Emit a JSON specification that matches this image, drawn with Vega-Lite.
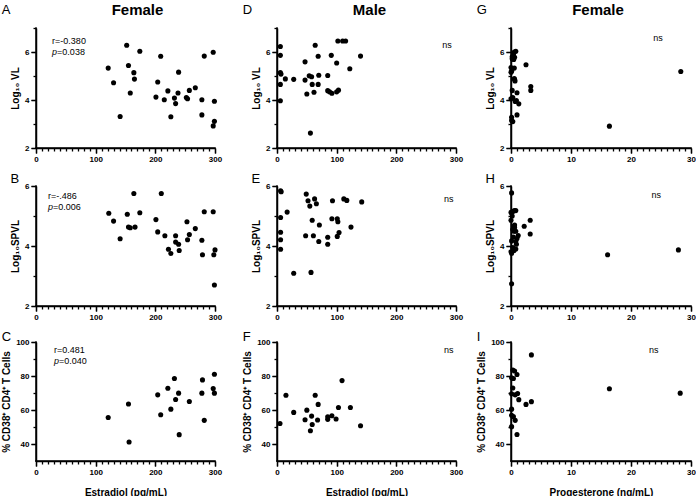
{
  "$schema": "https://vega.github.io/schema/vega-lite/v6.json",
  "padding": {"left": 1, "top": 2, "right": 0, "bottom": 0},
  "config": {
    "view": {"stroke": null},
    "axis": {
      "labelFont": "Liberation Sans", "labelFontWeight": "bold", "labelFontSize": 8, "labelColor": "black", "labelPadding": 2,
      "titleFont": "Liberation Sans", "titleFontWeight": "bold", "titleFontSize": 10, "titleColor": "black", "titlePadding": 4,
      "grid": false, "labelOverlap": false, "labelFlush": false,
      "domainColor": "black", "domainWidth": 1.5, "tickColor": "black", "tickWidth": 1.3
    },
    "title": {"font": "Liberation Sans", "color": "black"}
  },
  "datasets": {
    "A": [{"hormone":121,"value":5.33},{"hormone":130,"value":4.72},{"hormone":152,"value":6.28},{"hormone":155,"value":5.44},{"hormone":141,"value":3.31},{"hormone":158,"value":4.29},{"hormone":164,"value":5.14},{"hormone":165,"value":4.87},{"hormone":174,"value":6.03},{"hormone":201,"value":4.12},{"hormone":204,"value":4.75},{"hormone":209,"value":5.82},{"hormone":215,"value":4.01},{"hormone":221,"value":4.38},{"hormone":226,"value":3.30},{"hormone":232,"value":4.08},{"hormone":234,"value":3.85},{"hormone":238,"value":4.29},{"hormone":239,"value":5.16},{"hormone":252,"value":4.10},{"hormone":254,"value":4.05},{"hormone":257,"value":4.40},{"hormone":267,"value":4.51},{"hormone":278,"value":4.01},{"hormone":278,"value":3.38},{"hormone":282,"value":5.83},{"hormone":297,"value":5.99},{"hormone":299,"value":3.95},{"hormone":299,"value":3.11},{"hormone":297,"value":2.92}],
    "B": [{"hormone":122,"value":5.09},{"hormone":130,"value":4.83},{"hormone":141,"value":4.24},{"hormone":153,"value":5.06},{"hormone":155,"value":4.63},{"hormone":158,"value":4.61},{"hormone":164,"value":5.75},{"hormone":166,"value":4.63},{"hormone":174,"value":5.11},{"hormone":201,"value":4.88},{"hormone":204,"value":4.47},{"hormone":210,"value":5.75},{"hormone":216,"value":4.34},{"hormone":222,"value":3.89},{"hormone":226,"value":3.75},{"hormone":234,"value":4.34},{"hormone":234,"value":4.13},{"hormone":239,"value":4.06},{"hormone":240,"value":3.85},{"hormone":253,"value":4.81},{"hormone":254,"value":4.21},{"hormone":257,"value":4.38},{"hormone":267,"value":4.58},{"hormone":278,"value":4.19},{"hormone":279,"value":3.71},{"hormone":282,"value":5.14},{"hormone":297,"value":5.14},{"hormone":298,"value":3.71},{"hormone":300,"value":3.87},{"hormone":299,"value":2.70}],
    "C": [{"hormone":121,"value":55.6},{"hormone":155,"value":63.5},{"hormone":156,"value":41.2},{"hormone":204,"value":68.9},{"hormone":209,"value":57.2},{"hormone":221,"value":72.8},{"hormone":226,"value":60.5},{"hormone":232,"value":78.5},{"hormone":234,"value":66.2},{"hormone":239,"value":69.9},{"hormone":240,"value":45.5},{"hormone":257,"value":65.0},{"hormone":278,"value":69.9},{"hormone":279,"value":77.7},{"hormone":282,"value":53.9},{"hormone":297,"value":72.6},{"hormone":299,"value":81.0},{"hormone":299,"value":69.9}],
    "D": [{"hormone":5.6,"value":6.23},{"hormone":5.6,"value":5.86},{"hormone":5.6,"value":5.14},{"hormone":6.7,"value":5.08},{"hormone":5.6,"value":4.65},{"hormone":5.6,"value":3.97},{"hormone":14,"value":4.88},{"hormone":28,"value":4.86},{"hormone":47,"value":5.59},{"hormone":47,"value":4.83},{"hormone":50,"value":4.25},{"hormone":54,"value":5.01},{"hormone":58,"value":4.97},{"hormone":56,"value":2.62},{"hormone":59,"value":4.65},{"hormone":62,"value":4.32},{"hormone":64,"value":6.28},{"hormone":69,"value":5.82},{"hormone":69,"value":4.65},{"hormone":70,"value":5.03},{"hormone":85,"value":5.02},{"hormone":85,"value":4.39},{"hormone":88,"value":4.34},{"hormone":91,"value":5.86},{"hormone":92,"value":4.28},{"hormone":100,"value":5.54},{"hormone":100,"value":4.34},{"hormone":102,"value":6.46},{"hormone":103,"value":4.41},{"hormone":110,"value":6.46},{"hormone":115,"value":6.46},{"hormone":122,"value":5.30},{"hormone":140,"value":5.83}],
    "E": [{"hormone":6,"value":5.84},{"hormone":7,"value":5.81},{"hormone":6,"value":4.95},{"hormone":6,"value":4.46},{"hormone":6,"value":4.21},{"hormone":6,"value":3.89},{"hormone":17,"value":5.13},{"hormone":28,"value":3.09},{"hormone":49,"value":5.73},{"hormone":52,"value":5.51},{"hormone":55,"value":5.33},{"hormone":48,"value":4.34},{"hormone":57,"value":3.12},{"hormone":59,"value":4.86},{"hormone":61,"value":4.34},{"hormone":63,"value":5.57},{"hormone":66,"value":5.41},{"hormone":71,"value":4.70},{"hormone":70,"value":4.15},{"hormone":85,"value":4.29},{"hormone":85,"value":4.06},{"hormone":92,"value":4.91},{"hormone":93,"value":5.51},{"hormone":101,"value":4.91},{"hormone":102,"value":4.81},{"hormone":101,"value":4.32},{"hormone":104,"value":4.45},{"hormone":112,"value":5.57},{"hormone":117,"value":5.52},{"hormone":124,"value":4.63},{"hormone":142,"value":5.47}],
    "F": [{"hormone":5,"value":52.1},{"hormone":15,"value":68.7},{"hormone":28,"value":58.6},{"hormone":47,"value":54.3},{"hormone":50,"value":59.9},{"hormone":56,"value":47.8},{"hormone":58,"value":56.4},{"hormone":59,"value":51.5},{"hormone":64,"value":68.7},{"hormone":68,"value":54.1},{"hormone":69,"value":63.3},{"hormone":85,"value":56.0},{"hormone":85,"value":54.5},{"hormone":92,"value":56.6},{"hormone":99,"value":54.7},{"hormone":103,"value":61.5},{"hormone":109,"value":77.3},{"hormone":123,"value":61.5},{"hormone":140,"value":50.7}],
    "G": [{"hormone":0.55,"value":6.0},{"hormone":0.8,"value":6.03},{"hormone":0.4,"value":5.89},{"hormone":0.2,"value":5.72},{"hormone":0.45,"value":5.69},{"hormone":0.6,"value":5.78},{"hormone":0,"value":5.35},{"hormone":0.55,"value":5.33},{"hormone":0.1,"value":5.2},{"hormone":0,"value":5.16},{"hormone":0.55,"value":4.89},{"hormone":0.67,"value":4.79},{"hormone":0.6,"value":4.85},{"hormone":0.2,"value":4.40},{"hormone":1.0,"value":4.30},{"hormone":0,"value":4.05},{"hormone":0.3,"value":4.1},{"hormone":0.7,"value":3.94},{"hormone":0.9,"value":3.98},{"hormone":1.3,"value":3.84},{"hormone":1.0,"value":3.38},{"hormone":0.1,"value":3.28},{"hormone":0.3,"value":3.10},{"hormone":0.1,"value":3.15},{"hormone":2.5,"value":5.47},{"hormone":3.3,"value":4.56},{"hormone":3.3,"value":4.40},{"hormone":16.4,"value":2.91},{"hormone":28.3,"value":5.19},{"hormone":0.2,"value":5.8}],
    "H": [{"hormone":0.1,"value":5.77},{"hormone":0.55,"value":5.18},{"hormone":0,"value":5.12},{"hormone":0.8,"value":5.18},{"hormone":0.3,"value":5.15},{"hormone":0,"value":4.86},{"hormone":0.45,"value":4.66},{"hormone":0.6,"value":4.62},{"hormone":0.3,"value":4.55},{"hormone":2.2,"value":4.66},{"hormone":3.2,"value":4.86},{"hormone":3.2,"value":4.40},{"hormone":0.5,"value":4.49},{"hormone":0.8,"value":4.49},{"hormone":1.2,"value":4.35},{"hormone":0.1,"value":4.17},{"hormone":0.8,"value":4.15},{"hormone":0.9,"value":4.06},{"hormone":0.4,"value":4.3},{"hormone":0,"value":3.81},{"hormone":0.8,"value":3.90},{"hormone":0.1,"value":3.75},{"hormone":0.3,"value":3.95},{"hormone":0.1,"value":2.74},{"hormone":16.1,"value":3.71},{"hormone":27.9,"value":3.87},{"hormone":0.6,"value":4.7},{"hormone":0.2,"value":5.0},{"hormone":1.0,"value":4.25},{"hormone":0.5,"value":3.85}],
    "I": [{"hormone":3.4,"value":92.4},{"hormone":0.3,"value":83.5},{"hormone":0.6,"value":82.9},{"hormone":1.0,"value":80.9},{"hormone":0.4,"value":78.5},{"hormone":0.1,"value":78.9},{"hormone":0.3,"value":72.9},{"hormone":0.1,"value":69.5},{"hormone":0.7,"value":68.9},{"hormone":1.1,"value":69.7},{"hormone":1.3,"value":66.1},{"hormone":2.5,"value":63.3},{"hormone":3.4,"value":64.9},{"hormone":0.1,"value":60.5},{"hormone":0.1,"value":56.9},{"hormone":0.4,"value":56.1},{"hormone":0.7,"value":53.9},{"hormone":0.1,"value":50.2},{"hormone":1.0,"value":45.6},{"hormone":16.4,"value":72.5},{"hormone":28.2,"value":69.9}]
  },
  "spacing": 20,
  "hconcat": [
    {
      "title": {"text": "A", "anchor": "start", "frame": "bounds", "fontSize": 13, "fontWeight": "normal", "dy": 18},
      "spacing": 10,
      "vconcat": [
        {
          "width": 179, "height": 120,
          "title": {"text": "Female", "anchor": "middle", "frame": "group", "fontSize": 15, "fontWeight": "bold", "offset": 9, "dx": 12},
          "data": {"name": "A"},
          "resolve": {"axis": {"x": "independent", "y": "independent"}},
          "layer": [
            {"mark": {"type": "circle", "color": "black", "opacity": 1, "size": 26},
             "encoding": {
               "x": {"field": "hormone", "type": "quantitative", "scale": {"domain": [0, 300], "nice": false, "zero": false}, "axis": {"title": null, "values": [0,100,200,300], "orient": "bottom"}},
               "y": {"field": "value", "type": "quantitative", "scale": {"domain": [2, 7], "nice": false, "zero": false}, "axis": {"title": "Log₁₀ VL", "values": [2,4,6], "orient": "left"}}
             }},
            {"mark": {"type": "circle", "opacity": 0},
             "encoding": {
               "x": {"field": "hormone", "type": "quantitative", "axis": {"orient": "bottom", "title": null, "labels": false, "domain": false, "tickSize": 5, "values": [0,100,200,300]}},
               "y": {"field": "value", "type": "quantitative", "axis": {"orient": "left", "title": null, "labels": false, "domain": false, "tickSize": 5, "values": [2,4,6]}}
             }},
            {"mark": {"type": "circle", "opacity": 0},
             "encoding": {
               "x": {"field": "hormone", "type": "quantitative", "axis": {"orient": "bottom", "title": null, "labels": false, "domain": false, "tickSize": 3, "values": [10,20,30,40,50,60,70,80,90,110,120,130,140,150,160,170,180,190,210,220,230,240,250,260,270,280,290]}},
               "y": {"field": "value", "type": "quantitative", "axis": {"orient": "left", "title": null, "labels": false, "domain": false, "tickSize": 3, "values": [3,5,7]}}
             }},
            {"data": {"values": [{}]}, "mark": {"type": "rule", "color": "black", "strokeWidth": 1.5, "strokeCap": "square"}, "encoding": {"y": {"datum": 2, "axis": null}}},
            {"data": {"values": [{}]}, "mark": {"type": "rule", "color": "black", "strokeWidth": 1.5, "strokeCap": "square"}, "encoding": {"x": {"datum": 0, "axis": null}}},
            {"data": {"values": [{}]}, "mark": {"type": "text", "text": "r=-0.380", "align": "left", "baseline": "middle", "fontSize": 9, "color": "black"}, "encoding": {"x": {"datum": 27, "axis": null}, "y": {"datum": 6.46, "axis": null}}},
            {"data": {"values": [{}]}, "mark": {"type": "text", "text": "p", "fontStyle": "italic", "align": "left", "baseline": "middle", "fontSize": 9, "color": "black"}, "encoding": {"x": {"datum": 27, "axis": null}, "y": {"datum": 6.0, "axis": null}}},
            {"data": {"values": [{}]}, "mark": {"type": "text", "text": "=0.038", "align": "left", "baseline": "middle", "fontSize": 9, "dx": 5, "color": "black"}, "encoding": {"x": {"datum": 27, "axis": null}, "y": {"datum": 6.0, "axis": null}}}
          ]
        },
        {
          "width": 179, "height": 120,
          "title": {"text": "B", "anchor": "start", "frame": "bounds", "fontSize": 13, "fontWeight": "normal", "offset": -4},
          "data": {"name": "B"},
          "resolve": {"axis": {"x": "independent", "y": "independent"}},
          "layer": [
            {"mark": {"type": "circle", "color": "black", "opacity": 1, "size": 26},
             "encoding": {
               "x": {"field": "hormone", "type": "quantitative", "scale": {"domain": [0, 300], "nice": false, "zero": false}, "axis": {"title": null, "values": [0,100,200,300], "orient": "bottom"}},
               "y": {"field": "value", "type": "quantitative", "scale": {"domain": [2, 6], "nice": false, "zero": false}, "axis": {"title": "Log₁₀SPVL", "values": [2,4,6], "orient": "left"}}
             }},
            {"mark": {"type": "circle", "opacity": 0},
             "encoding": {
               "x": {"field": "hormone", "type": "quantitative", "axis": {"orient": "bottom", "title": null, "labels": false, "domain": false, "tickSize": 5, "values": [0,100,200,300]}},
               "y": {"field": "value", "type": "quantitative", "axis": {"orient": "left", "title": null, "labels": false, "domain": false, "tickSize": 5, "values": [2,4,6]}}
             }},
            {"mark": {"type": "circle", "opacity": 0},
             "encoding": {
               "x": {"field": "hormone", "type": "quantitative", "axis": {"orient": "bottom", "title": null, "labels": false, "domain": false, "tickSize": 3, "values": [10,20,30,40,50,60,70,80,90,110,120,130,140,150,160,170,180,190,210,220,230,240,250,260,270,280,290]}},
               "y": {"field": "value", "type": "quantitative", "axis": {"orient": "left", "title": null, "labels": false, "domain": false, "tickSize": 3, "values": [3,5]}}
             }},
            {"data": {"values": [{}]}, "mark": {"type": "rule", "color": "black", "strokeWidth": 1.5, "strokeCap": "square"}, "encoding": {"y": {"datum": 2, "axis": null}}},
            {"data": {"values": [{}]}, "mark": {"type": "rule", "color": "black", "strokeWidth": 1.5, "strokeCap": "square"}, "encoding": {"x": {"datum": 0, "axis": null}}},
            {"data": {"values": [{}]}, "mark": {"type": "text", "text": "r=-.486", "align": "left", "baseline": "middle", "fontSize": 9, "color": "black"}, "encoding": {"x": {"datum": 20, "axis": null}, "y": {"datum": 5.67, "axis": null}}},
            {"data": {"values": [{}]}, "mark": {"type": "text", "text": "p", "fontStyle": "italic", "align": "left", "baseline": "middle", "fontSize": 9, "color": "black"}, "encoding": {"x": {"datum": 20, "axis": null}, "y": {"datum": 5.3, "axis": null}}},
            {"data": {"values": [{}]}, "mark": {"type": "text", "text": "=0.006", "align": "left", "baseline": "middle", "fontSize": 9, "dx": 5, "color": "black"}, "encoding": {"x": {"datum": 20, "axis": null}, "y": {"datum": 5.3, "axis": null}}}
          ]
        },
        {
          "width": 179, "height": 119,
          "title": {"text": "C", "anchor": "start", "frame": "bounds", "fontSize": 13, "fontWeight": "normal", "offset": -6},
          "data": {"name": "C"},
          "resolve": {"axis": {"x": "independent", "y": "independent"}},
          "layer": [
            {"mark": {"type": "circle", "color": "black", "opacity": 1, "size": 26},
             "encoding": {
               "x": {"field": "hormone", "type": "quantitative", "scale": {"domain": [0, 300], "nice": false, "zero": false}, "axis": {"title": "Estradiol (pg/mL)", "titlePadding": 11, "values": [0,100,200,300], "orient": "bottom"}},
               "y": {"field": "value", "type": "quantitative", "scale": {"domain": [30, 100], "nice": false, "zero": false}, "axis": {"title": "% CD38⁺ CD4⁺ T Cells", "values": [40,60,80,100], "orient": "left"}}
             }},
            {"mark": {"type": "circle", "opacity": 0},
             "encoding": {
               "x": {"field": "hormone", "type": "quantitative", "axis": {"orient": "bottom", "title": null, "labels": false, "domain": false, "tickSize": 5, "values": [0,100,200,300]}},
               "y": {"field": "value", "type": "quantitative", "axis": {"orient": "left", "title": null, "labels": false, "domain": false, "tickSize": 5, "values": [40,60,80,100]}}
             }},
            {"mark": {"type": "circle", "opacity": 0},
             "encoding": {
               "x": {"field": "hormone", "type": "quantitative", "axis": {"orient": "bottom", "title": null, "labels": false, "domain": false, "tickSize": 3, "values": [10,20,30,40,50,60,70,80,90,110,120,130,140,150,160,170,180,190,210,220,230,240,250,260,270,280,290]}},
               "y": {"field": "value", "type": "quantitative", "axis": {"orient": "left", "title": null, "labels": false, "domain": false, "tickSize": 3, "values": [50,70,90]}}
             }},
            {"data": {"values": [{}]}, "mark": {"type": "rule", "color": "black", "strokeWidth": 1.5, "strokeCap": "square"}, "encoding": {"y": {"datum": 30, "axis": null}}},
            {"data": {"values": [{}]}, "mark": {"type": "rule", "color": "black", "strokeWidth": 1.5, "strokeCap": "square"}, "encoding": {"x": {"datum": 0, "axis": null}}},
            {"data": {"values": [{}]}, "mark": {"type": "text", "text": "r=0.481", "align": "left", "baseline": "middle", "fontSize": 9, "color": "black"}, "encoding": {"x": {"datum": 30, "axis": null}, "y": {"datum": 95.3, "axis": null}}},
            {"data": {"values": [{}]}, "mark": {"type": "text", "text": "p", "fontStyle": "italic", "align": "left", "baseline": "middle", "fontSize": 9, "color": "black"}, "encoding": {"x": {"datum": 30, "axis": null}, "y": {"datum": 88.8, "axis": null}}},
            {"data": {"values": [{}]}, "mark": {"type": "text", "text": "=0.040", "align": "left", "baseline": "middle", "fontSize": 9, "dx": 5, "color": "black"}, "encoding": {"x": {"datum": 30, "axis": null}, "y": {"datum": 88.8, "axis": null}}}
          ]
        }
      ]
    },
    {
      "spacing": 13,
      "hconcat": [
        {
          "title": {"text": "D", "anchor": "start", "frame": "bounds", "fontSize": 13, "fontWeight": "normal", "dy": 18},
          "spacing": 10,
          "vconcat": [
            {
              "width": 179, "height": 120,
              "title": {"text": "Male", "anchor": "middle", "frame": "group", "fontSize": 15, "fontWeight": "bold", "offset": 9, "dx": 3},
              "data": {"name": "D"},
              "resolve": {"axis": {"x": "independent", "y": "independent"}},
              "layer": [
                {"mark": {"type": "circle", "color": "black", "opacity": 1, "size": 26},
                 "encoding": {
                   "x": {"field": "hormone", "type": "quantitative", "scale": {"domain": [0, 300], "nice": false, "zero": false}, "axis": {"title": null, "values": [0,100,200,300], "orient": "bottom"}},
                   "y": {"field": "value", "type": "quantitative", "scale": {"domain": [2, 7], "nice": false, "zero": false}, "axis": {"title": "Log₁₀ VL", "values": [2,4,6], "orient": "left"}}
                 }},
                {"mark": {"type": "circle", "opacity": 0},
                 "encoding": {
                   "x": {"field": "hormone", "type": "quantitative", "axis": {"orient": "bottom", "title": null, "labels": false, "domain": false, "tickSize": 5, "values": [0,100,200,300]}},
                   "y": {"field": "value", "type": "quantitative", "axis": {"orient": "left", "title": null, "labels": false, "domain": false, "tickSize": 5, "values": [2,4,6]}}
                 }},
                {"mark": {"type": "circle", "opacity": 0},
                 "encoding": {
                   "x": {"field": "hormone", "type": "quantitative", "axis": {"orient": "bottom", "title": null, "labels": false, "domain": false, "tickSize": 3, "values": [10,20,30,40,50,60,70,80,90,110,120,130,140,150,160,170,180,190,210,220,230,240,250,260,270,280,290]}},
                   "y": {"field": "value", "type": "quantitative", "axis": {"orient": "left", "title": null, "labels": false, "domain": false, "tickSize": 3, "values": [3,5,7]}}
                 }},
                {"data": {"values": [{}]}, "mark": {"type": "rule", "color": "black", "strokeWidth": 1.5, "strokeCap": "square"}, "encoding": {"y": {"datum": 2, "axis": null}}},
                {"data": {"values": [{}]}, "mark": {"type": "rule", "color": "black", "strokeWidth": 1.5, "strokeCap": "square"}, "encoding": {"x": {"datum": 0, "axis": null}}},
                {"data": {"values": [{}]}, "mark": {"type": "text", "text": "ns", "align": "center", "baseline": "middle", "fontSize": 9, "color": "black"}, "encoding": {"x": {"datum": 285, "axis": null}, "y": {"datum": 6.29, "axis": null}}}
              ]
            },
            {
              "width": 179, "height": 120,
              "title": {"text": "E", "anchor": "start", "frame": "bounds", "fontSize": 13, "fontWeight": "normal", "offset": -4},
              "data": {"name": "E"},
              "resolve": {"axis": {"x": "independent", "y": "independent"}},
              "layer": [
                {"mark": {"type": "circle", "color": "black", "opacity": 1, "size": 26},
                 "encoding": {
                   "x": {"field": "hormone", "type": "quantitative", "scale": {"domain": [0, 300], "nice": false, "zero": false}, "axis": {"title": null, "values": [0,100,200,300], "orient": "bottom"}},
                   "y": {"field": "value", "type": "quantitative", "scale": {"domain": [2, 6], "nice": false, "zero": false}, "axis": {"title": "Log₁₀SPVL", "values": [2,4,6], "orient": "left"}}
                 }},
                {"mark": {"type": "circle", "opacity": 0},
                 "encoding": {
                   "x": {"field": "hormone", "type": "quantitative", "axis": {"orient": "bottom", "title": null, "labels": false, "domain": false, "tickSize": 5, "values": [0,100,200,300]}},
                   "y": {"field": "value", "type": "quantitative", "axis": {"orient": "left", "title": null, "labels": false, "domain": false, "tickSize": 5, "values": [2,4,6]}}
                 }},
                {"mark": {"type": "circle", "opacity": 0},
                 "encoding": {
                   "x": {"field": "hormone", "type": "quantitative", "axis": {"orient": "bottom", "title": null, "labels": false, "domain": false, "tickSize": 3, "values": [10,20,30,40,50,60,70,80,90,110,120,130,140,150,160,170,180,190,210,220,230,240,250,260,270,280,290]}},
                   "y": {"field": "value", "type": "quantitative", "axis": {"orient": "left", "title": null, "labels": false, "domain": false, "tickSize": 3, "values": [3,5]}}
                 }},
                {"data": {"values": [{}]}, "mark": {"type": "rule", "color": "black", "strokeWidth": 1.5, "strokeCap": "square"}, "encoding": {"y": {"datum": 2, "axis": null}}},
                {"data": {"values": [{}]}, "mark": {"type": "rule", "color": "black", "strokeWidth": 1.5, "strokeCap": "square"}, "encoding": {"x": {"datum": 0, "axis": null}}},
                {"data": {"values": [{}]}, "mark": {"type": "text", "text": "ns", "align": "center", "baseline": "middle", "fontSize": 9, "color": "black"}, "encoding": {"x": {"datum": 288, "axis": null}, "y": {"datum": 5.57, "axis": null}}}
              ]
            },
            {
              "width": 179, "height": 119,
              "title": {"text": "F", "anchor": "start", "frame": "bounds", "fontSize": 13, "fontWeight": "normal", "offset": -6},
              "data": {"name": "F"},
              "resolve": {"axis": {"x": "independent", "y": "independent"}},
              "layer": [
                {"mark": {"type": "circle", "color": "black", "opacity": 1, "size": 26},
                 "encoding": {
                   "x": {"field": "hormone", "type": "quantitative", "scale": {"domain": [0, 300], "nice": false, "zero": false}, "axis": {"title": "Estradiol (pg/mL)", "titlePadding": 11, "values": [0,100,200,300], "orient": "bottom"}},
                   "y": {"field": "value", "type": "quantitative", "scale": {"domain": [30, 100], "nice": false, "zero": false}, "axis": {"title": "% CD38⁺ CD4⁺ T Cells", "values": [40,60,80,100], "orient": "left"}}
                 }},
                {"mark": {"type": "circle", "opacity": 0},
                 "encoding": {
                   "x": {"field": "hormone", "type": "quantitative", "axis": {"orient": "bottom", "title": null, "labels": false, "domain": false, "tickSize": 5, "values": [0,100,200,300]}},
                   "y": {"field": "value", "type": "quantitative", "axis": {"orient": "left", "title": null, "labels": false, "domain": false, "tickSize": 5, "values": [40,60,80,100]}}
                 }},
                {"mark": {"type": "circle", "opacity": 0},
                 "encoding": {
                   "x": {"field": "hormone", "type": "quantitative", "axis": {"orient": "bottom", "title": null, "labels": false, "domain": false, "tickSize": 3, "values": [10,20,30,40,50,60,70,80,90,110,120,130,140,150,160,170,180,190,210,220,230,240,250,260,270,280,290]}},
                   "y": {"field": "value", "type": "quantitative", "axis": {"orient": "left", "title": null, "labels": false, "domain": false, "tickSize": 3, "values": [50,70,90]}}
                 }},
                {"data": {"values": [{}]}, "mark": {"type": "rule", "color": "black", "strokeWidth": 1.5, "strokeCap": "square"}, "encoding": {"y": {"datum": 30, "axis": null}}},
                {"data": {"values": [{}]}, "mark": {"type": "rule", "color": "black", "strokeWidth": 1.5, "strokeCap": "square"}, "encoding": {"x": {"datum": 0, "axis": null}}},
                {"data": {"values": [{}]}, "mark": {"type": "text", "text": "ns", "align": "center", "baseline": "middle", "fontSize": 9, "color": "black"}, "encoding": {"x": {"datum": 288, "axis": null}, "y": {"datum": 95.3, "axis": null}}}
              ]
            }
          ]
        },
        {
          "title": {"text": "G", "anchor": "start", "frame": "bounds", "fontSize": 13, "fontWeight": "normal", "dy": 18},
          "spacing": 10,
          "vconcat": [
            {
              "width": 180, "height": 120,
              "title": {"text": "Female", "anchor": "middle", "frame": "group", "fontSize": 15, "fontWeight": "bold", "offset": 9, "dx": -3},
              "data": {"name": "G"},
              "resolve": {"axis": {"x": "independent", "y": "independent"}},
              "layer": [
                {"mark": {"type": "circle", "color": "black", "opacity": 1, "size": 26},
                 "encoding": {
                   "x": {"field": "hormone", "type": "quantitative", "scale": {"domain": [0, 30], "nice": false, "zero": false}, "axis": {"title": null, "values": [0,10,20,30], "orient": "bottom"}},
                   "y": {"field": "value", "type": "quantitative", "scale": {"domain": [2, 7], "nice": false, "zero": false}, "axis": {"title": "Log₁₀ VL", "values": [2,4,6], "orient": "left"}}
                 }},
                {"mark": {"type": "circle", "opacity": 0},
                 "encoding": {
                   "x": {"field": "hormone", "type": "quantitative", "axis": {"orient": "bottom", "title": null, "labels": false, "domain": false, "tickSize": 5, "values": [0,10,20,30]}},
                   "y": {"field": "value", "type": "quantitative", "axis": {"orient": "left", "title": null, "labels": false, "domain": false, "tickSize": 5, "values": [2,4,6]}}
                 }},
                {"mark": {"type": "circle", "opacity": 0},
                 "encoding": {
                   "x": {"field": "hormone", "type": "quantitative", "axis": {"orient": "bottom", "title": null, "labels": false, "domain": false, "tickSize": 3, "values": [1,2,3,4,5,6,7,8,9,11,12,13,14,15,16,17,18,19,21,22,23,24,25,26,27,28,29]}},
                   "y": {"field": "value", "type": "quantitative", "axis": {"orient": "left", "title": null, "labels": false, "domain": false, "tickSize": 3, "values": [3,5,7]}}
                 }},
                {"data": {"values": [{}]}, "mark": {"type": "rule", "color": "black", "strokeWidth": 1.5, "strokeCap": "square"}, "encoding": {"y": {"datum": 2, "axis": null}}},
                {"data": {"values": [{}]}, "mark": {"type": "rule", "color": "black", "strokeWidth": 1.5, "strokeCap": "square"}, "encoding": {"x": {"datum": 0, "axis": null}}},
                {"data": {"values": [{}]}, "mark": {"type": "text", "text": "ns", "align": "center", "baseline": "middle", "fontSize": 9, "color": "black"}, "encoding": {"x": {"datum": 24.5, "axis": null}, "y": {"datum": 6.6, "axis": null}}}
              ]
            },
            {
              "width": 180, "height": 120,
              "title": {"text": "H", "anchor": "start", "frame": "bounds", "fontSize": 13, "fontWeight": "normal", "offset": -4},
              "data": {"name": "H"},
              "resolve": {"axis": {"x": "independent", "y": "independent"}},
              "layer": [
                {"mark": {"type": "circle", "color": "black", "opacity": 1, "size": 26},
                 "encoding": {
                   "x": {"field": "hormone", "type": "quantitative", "scale": {"domain": [0, 30], "nice": false, "zero": false}, "axis": {"title": null, "values": [0,10,20,30], "orient": "bottom"}},
                   "y": {"field": "value", "type": "quantitative", "scale": {"domain": [2, 6], "nice": false, "zero": false}, "axis": {"title": "Log₁₀SPVL", "values": [2,4,6], "orient": "left"}}
                 }},
                {"mark": {"type": "circle", "opacity": 0},
                 "encoding": {
                   "x": {"field": "hormone", "type": "quantitative", "axis": {"orient": "bottom", "title": null, "labels": false, "domain": false, "tickSize": 5, "values": [0,10,20,30]}},
                   "y": {"field": "value", "type": "quantitative", "axis": {"orient": "left", "title": null, "labels": false, "domain": false, "tickSize": 5, "values": [2,4,6]}}
                 }},
                {"mark": {"type": "circle", "opacity": 0},
                 "encoding": {
                   "x": {"field": "hormone", "type": "quantitative", "axis": {"orient": "bottom", "title": null, "labels": false, "domain": false, "tickSize": 3, "values": [1,2,3,4,5,6,7,8,9,11,12,13,14,15,16,17,18,19,21,22,23,24,25,26,27,28,29]}},
                   "y": {"field": "value", "type": "quantitative", "axis": {"orient": "left", "title": null, "labels": false, "domain": false, "tickSize": 3, "values": [3,5]}}
                 }},
                {"data": {"values": [{}]}, "mark": {"type": "rule", "color": "black", "strokeWidth": 1.5, "strokeCap": "square"}, "encoding": {"y": {"datum": 2, "axis": null}}},
                {"data": {"values": [{}]}, "mark": {"type": "rule", "color": "black", "strokeWidth": 1.5, "strokeCap": "square"}, "encoding": {"x": {"datum": 0, "axis": null}}},
                {"data": {"values": [{}]}, "mark": {"type": "text", "text": "ns", "align": "center", "baseline": "middle", "fontSize": 9, "color": "black"}, "encoding": {"x": {"datum": 24.2, "axis": null}, "y": {"datum": 5.7, "axis": null}}}
              ]
            },
            {
              "width": 180, "height": 119,
              "title": {"text": "I", "anchor": "start", "frame": "bounds", "fontSize": 13, "fontWeight": "normal", "offset": -6},
              "data": {"name": "I"},
              "resolve": {"axis": {"x": "independent", "y": "independent"}},
              "layer": [
                {"mark": {"type": "circle", "color": "black", "opacity": 1, "size": 26},
                 "encoding": {
                   "x": {"field": "hormone", "type": "quantitative", "scale": {"domain": [0, 30], "nice": false, "zero": false}, "axis": {"title": "Progesterone (ng/mL)", "titlePadding": 11, "values": [0,10,20,30], "orient": "bottom"}},
                   "y": {"field": "value", "type": "quantitative", "scale": {"domain": [30, 100], "nice": false, "zero": false}, "axis": {"title": "% CD38⁺ CD4⁺ T Cells", "values": [40,60,80,100], "orient": "left"}}
                 }},
                {"mark": {"type": "circle", "opacity": 0},
                 "encoding": {
                   "x": {"field": "hormone", "type": "quantitative", "axis": {"orient": "bottom", "title": null, "labels": false, "domain": false, "tickSize": 5, "values": [0,10,20,30]}},
                   "y": {"field": "value", "type": "quantitative", "axis": {"orient": "left", "title": null, "labels": false, "domain": false, "tickSize": 5, "values": [40,60,80,100]}}
                 }},
                {"mark": {"type": "circle", "opacity": 0},
                 "encoding": {
                   "x": {"field": "hormone", "type": "quantitative", "axis": {"orient": "bottom", "title": null, "labels": false, "domain": false, "tickSize": 3, "values": [1,2,3,4,5,6,7,8,9,11,12,13,14,15,16,17,18,19,21,22,23,24,25,26,27,28,29]}},
                   "y": {"field": "value", "type": "quantitative", "axis": {"orient": "left", "title": null, "labels": false, "domain": false, "tickSize": 3, "values": [50,70,90]}}
                 }},
                {"data": {"values": [{}]}, "mark": {"type": "rule", "color": "black", "strokeWidth": 1.5, "strokeCap": "square"}, "encoding": {"y": {"datum": 30, "axis": null}}},
                {"data": {"values": [{}]}, "mark": {"type": "rule", "color": "black", "strokeWidth": 1.5, "strokeCap": "square"}, "encoding": {"x": {"datum": 0, "axis": null}}},
                {"data": {"values": [{}]}, "mark": {"type": "text", "text": "ns", "align": "center", "baseline": "middle", "fontSize": 9, "color": "black"}, "encoding": {"x": {"datum": 23.8, "axis": null}, "y": {"datum": 95.3, "axis": null}}}
              ]
            }
          ]
        }
      ]
    }
  ]
}
